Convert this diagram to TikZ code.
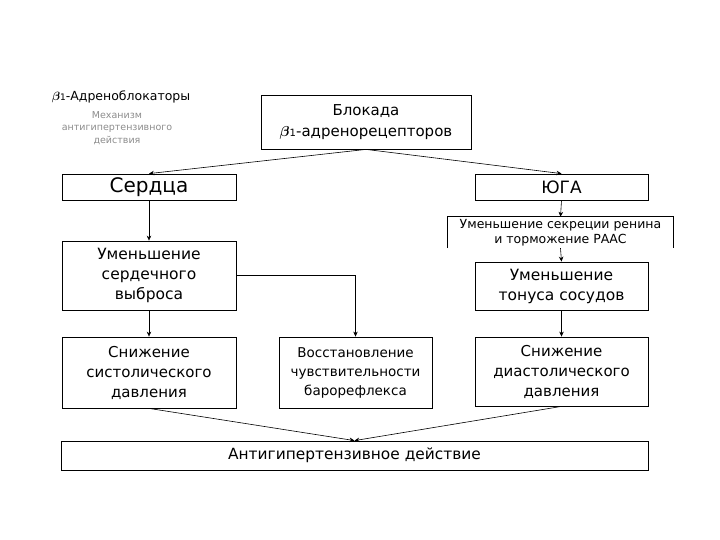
\documentclass[tikz,border=0pt]{standalone}
\usepackage{fontspec}
\setmainfont{DejaVu Sans}
\usetikzlibrary{arrows.meta}
\tikzset{
  box/.style={draw, line width=0.8pt, align=center, inner sep=0pt},
  conn/.style={line width=0.6pt, -{Stealth[length=5pt,width=4.5pt]}},
  fs/.style 2 args={font=\fontsize{#1}{#2}\selectfont}
}
\begin{document}
\begin{tikzpicture}[x=1pt,y=-1pt]
\useasboundingbox (0,0) rectangle (720,540);
% title
\node[fs={12.5}{15}, anchor=center] (title) at (121,97) {{\boldmath$\beta$}{\fontsize{9}{9}\selectfont 1}-Адреноблокаторы};
\node[fs={9.5}{12.5}, text=black!45, align=center, anchor=north] (sub) at (117,108) {Механизм\\антигипертензивного\\действия};
% boxes
\node[box, fs={15}{21}, minimum width=210, minimum height=54] (top) at (366,122) {Блокада\\{\boldmath$\beta$}{\fontsize{10}{10}\selectfont 1}-адренорецепторов};
\node[box, fs={20}{24}, minimum width=174, minimum height=26] (serdca) at (149,187) {Сердца};
\node[box, fs={17}{20}, minimum width=173, minimum height=26] (yuga) at (561.5,187) {ЮГА};
\node[fs={12.5}{15}, align=center, minimum width=225, minimum height=31, inner sep=0pt] (renin) at (560.5,232.5) {Уменьшение секреции ренина\\и торможение РААС};
\draw[line width=0.8pt] (renin.south west) -- (renin.north west) -- (renin.north east) -- (renin.south east);
\node[box, fs={15.5}{20}, minimum width=174, minimum height=69] (ums) at (149,275.5) {Уменьшение\\сердечного\\выброса};
\node[box, fs={15.5}{20}, minimum width=173, minimum height=48] (tonus) at (561.5,286) {Уменьшение\\тонуса сосудов};
\node[box, fs={15}{20}, minimum width=174, minimum height=71] (sist) at (149,372.5) {Снижение\\систолического\\давления};
\node[box, fs={13.5}{19}, minimum width=153, minimum height=71] (baro) at (355.5,372.5) {Восстановление\\чувствительности\\барорефлекса};
\node[box, fs={15}{20}, minimum width=173, minimum height=69] (diast) at (561.5,371.5) {Снижение\\диастолического\\давления};
\node[box, fs={15.4}{20}, minimum width=587, minimum height=29] (anti) at (354.5,455.5) {Антигипертензивное действие};
% connectors
\draw[conn] (top.south) -- (serdca.north);
\draw[conn] (top.south) -- (yuga.north);
\draw[conn] (serdca.south) -- (ums.north);
\draw[conn] (ums.south) -- (sist.north);
\draw[conn] (ums.east) -| (baro.north);
\draw[conn] (yuga.south) -- (renin.north);
\draw[conn] (renin.south) -- (tonus.north);
\draw[conn] (tonus.south) -- (diast.north);
\draw[conn] (sist.south) -- (anti.north);
\draw[conn] (diast.south) -- (anti.north);
\end{tikzpicture}
\end{document}
